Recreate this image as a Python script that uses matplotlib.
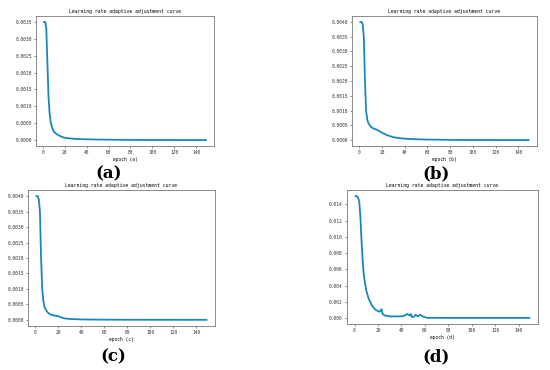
import matplotlib
matplotlib.use("Agg")
import matplotlib.pyplot as plt

# learning-rate curves
ep_a = [1, 2, 3, 4, 5, 6, 7, 8, 9, 10, 12, 15, 18, 20, 25, 30, 40, 50, 70, 100, 149]
lr_a = [0.00350, 0.00350, 0.00330, 0.00230, 0.00130, 0.00080, 0.00055, 0.00040, 0.00031, 0.00025,
        0.00019, 0.00013, 0.00009, 0.00007, 0.00005, 0.000035, 0.000025, 0.000018, 0.00001, 0.000005, 0.000002]

ep_b = [1, 2, 3, 4, 5, 6, 7, 8, 10, 12, 15, 18, 20, 25, 30, 35, 40, 50, 60, 80, 100, 149]
lr_b = [0.00400, 0.00400, 0.00392, 0.00350, 0.00200, 0.00100, 0.00070, 0.00058, 0.00046, 0.00040,
        0.00036, 0.00030, 0.00025, 0.00016, 0.00010, 0.00007, 0.00005, 0.00003, 0.00002, 0.00001, 0.000005, 0.000002]

ep_c = [1, 2, 3, 4, 5, 6, 7, 8, 10, 12, 15, 20, 22, 25, 30, 40, 50, 70, 100, 149]
lr_c = [0.00400, 0.00400, 0.00390, 0.00350, 0.00200, 0.00100, 0.00060, 0.00042, 0.00027, 0.00020,
        0.00015, 0.00012, 0.00009, 0.00005, 0.00003, 0.000015, 0.00001, 0.000005, 0.000003, 0.000002]

ep_d = [1, 2, 3, 4, 5, 6, 7, 8, 10, 12, 15, 18, 21, 22, 23, 24, 26, 30, 40, 43, 45, 46, 47, 48, 49,
        51, 52, 54, 56, 58, 60, 62, 80, 100, 149]
lr_d = [0.0150, 0.0150, 0.0148, 0.0144, 0.0125, 0.0095, 0.0070, 0.0052, 0.0034, 0.0024, 0.0015,
        0.0010, 0.0008, 0.0008, 0.0011, 0.0005, 0.0003, 0.0002, 0.0002, 0.0003, 0.0005, 0.0004,
        0.0003, 0.0005, 0.0001, 0.0002, 0.0004, 0.0002, 0.0004, 0.0002, 0.0001, 0.00002, 0.00001,
        0.00001, 0.00001]

panels = ["a", "b", "c", "d"]
yticks = [[i * 0.0005 for i in range(8)],
          [i * 0.0005 for i in range(9)],
          [i * 0.0005 for i in range(9)],
          [i * 0.002 for i in range(8)]]
yfmt = ["%.4f", "%.4f", "%.4f", "%.3f"]
xticks = [0, 20, 40, 60, 80, 100, 120, 140]

rects = [[0.0655, 0.6054, 0.3236, 0.3514],
         [0.640, 0.6054, 0.3364, 0.3514],
         [0.0509, 0.1189, 0.3400, 0.3676],
         [0.6309, 0.1243, 0.3473, 0.3620]]
label_xy = [(109, 174), (436, 174), (113, 357), (436, 357)]

color = "#1b86bd"
fig = plt.figure(figsize=(5.5, 3.7), dpi=100)

data = [(ep_a, lr_a), (ep_b, lr_b), (ep_c, lr_c), (ep_d, lr_d)]
for i, (ep, lr) in enumerate(data):
    ax = fig.add_axes(rects[i])
    ax.plot(ep, lr, color=color, lw=1.3)
    ax.set_xticks(xticks)
    ax.set_yticks(yticks[i])
    ax.set_yticklabels([yfmt[i] % v for v in yticks[i]])
    ax.tick_params(labelsize=3.3, length=1.5, width=0.4, pad=1.5, colors="#333333")
    for lab in ax.get_xticklabels() + ax.get_yticklabels():
        lab.set_family("DejaVu Sans Mono")
    for s in ax.spines.values():
        s.set_linewidth(0.6)
        s.set_color("#777777")
    ax.set_title("Learning rate adaptive adjustment curve", fontsize=3.4,
                 family="DejaVu Sans Mono", pad=2)
    ax.set_xlabel("epoch (%s)" % panels[i], fontsize=3.3, family="DejaVu Sans Mono", labelpad=1.5)
    lx, ly = label_xy[i]
    fig.text(lx / 550, 1 - ly / 370, "(%s)" % panels[i], fontsize=12, fontweight="bold",
             family="DejaVu Serif", ha="center", va="center")

fig.savefig("out.png", dpi=100)
